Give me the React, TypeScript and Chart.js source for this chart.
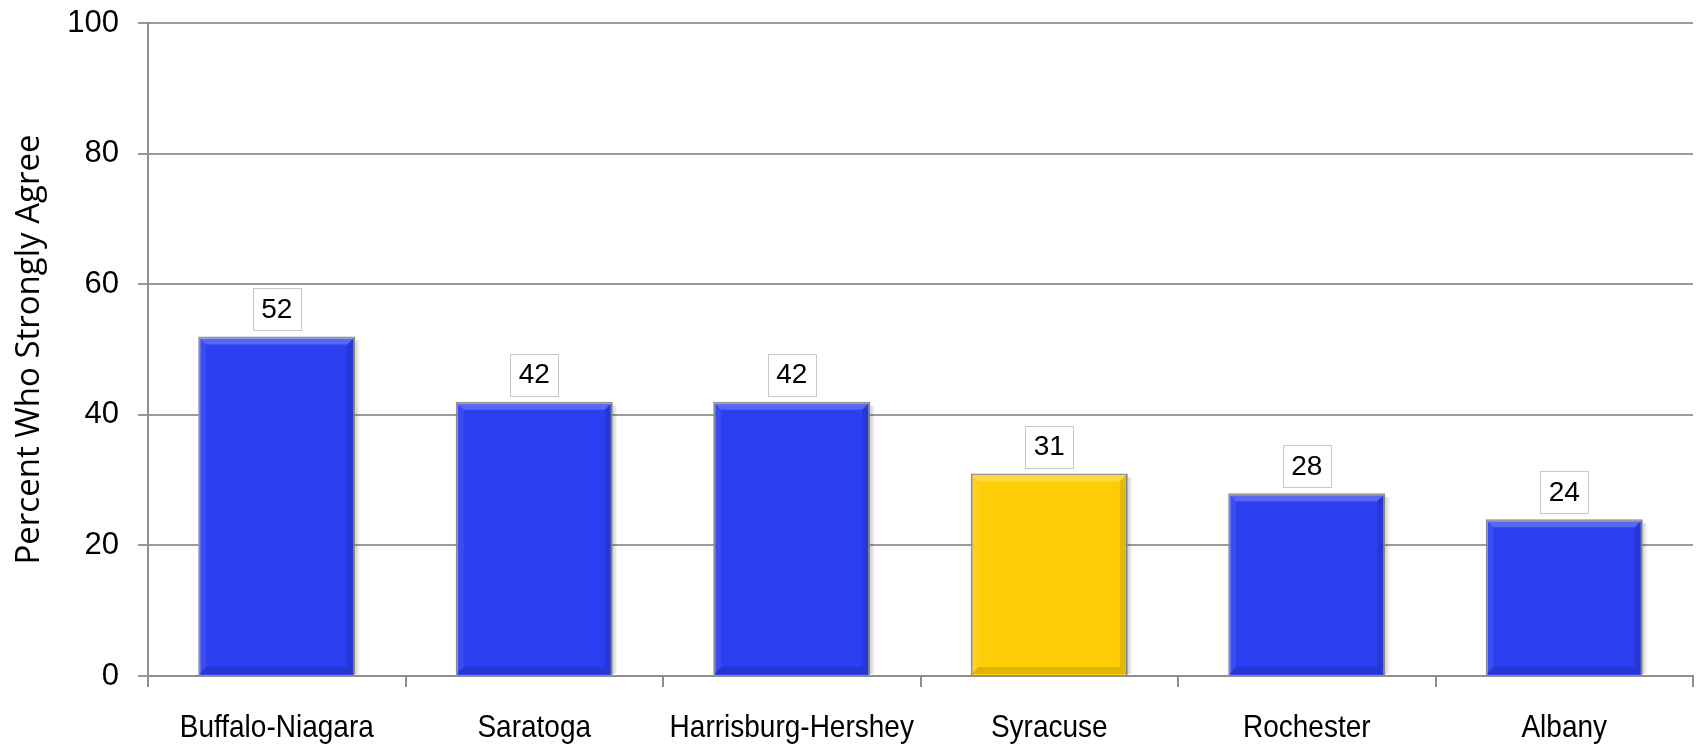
import React, { useEffect, useRef } from "react";
import { Chart, registerables } from "chart.js";

Chart.register(...registerables);

const categories: string[] = ["Buffalo-Niagara", "Saratoga", "Harrisburg-Hershey", "Syracuse", "Rochester", "Albany"];
const values: number[] = [52, 42, 42, 31, 28, 24];
const barColors: string[] = ["#2b3ef0", "#2b3ef0", "#2b3ef0", "#ffcc08", "#2b3ef0", "#2b3ef0"];
const yTicks: number[] = [0, 20, 40, 60, 80, 100];
const yTitle = "Percent Who Strongly Agree";

const FONT = "'Liberation Sans', Arial, sans-serif";

const barDecor = {
  id: "barDecor",
  afterDatasetsDraw(chart: any) {
    const ctx = chart.ctx as CanvasRenderingContext2D;
    const meta = chart.getDatasetMeta(0);
    meta.data.forEach((el: any, i: number) => {
      const w = el.width;
      const left = el.x - w / 2 + 1;
      const right = el.x + w / 2 - 1;
      const top = el.y + 1;
      const bottom = el.base - 1;
      const b = 7;
      ctx.save();
      ctx.fillStyle = "rgba(255,255,255,0.22)";
      ctx.beginPath();
      ctx.moveTo(left, top);
      ctx.lineTo(right, top);
      ctx.lineTo(right - b, top + b);
      ctx.lineTo(left + b, top + b);
      ctx.closePath();
      ctx.fill();
      ctx.fillStyle = "rgba(255,255,255,0.08)";
      ctx.beginPath();
      ctx.moveTo(left, top);
      ctx.lineTo(left + b, top + b);
      ctx.lineTo(left + b, bottom - b);
      ctx.lineTo(left, bottom);
      ctx.closePath();
      ctx.fill();
      ctx.fillStyle = "rgba(0,0,0,0.10)";
      ctx.beginPath();
      ctx.moveTo(right, top);
      ctx.lineTo(right - b, top + b);
      ctx.lineTo(right - b, bottom - b);
      ctx.lineTo(right, bottom);
      ctx.closePath();
      ctx.fill();
      ctx.fillStyle = "rgba(0,0,0,0.12)";
      ctx.beginPath();
      ctx.moveTo(left, bottom);
      ctx.lineTo(left + b, bottom - b);
      ctx.lineTo(right - b, bottom - b);
      ctx.lineTo(right, bottom);
      ctx.closePath();
      ctx.fill();
      const g = ctx.createLinearGradient(right + 1, 0, right + 6, 0);
      g.addColorStop(0, "rgba(0,0,0,0.18)");
      g.addColorStop(1, "rgba(0,0,0,0)");
      ctx.fillStyle = g;
      ctx.fillRect(right + 1, top + 3, 5, bottom - top - 3);

      const text = String(values[i]);
      ctx.font = `28px ${FONT}`;
      const tw = ctx.measureText(text).width;
      const bw = tw + 17;
      const bh = 42;
      const bx = el.x - bw / 2;
      const by = el.y - 6 - bh;
      ctx.fillStyle = "#ffffff";
      ctx.fillRect(bx, by, bw, bh);
      ctx.strokeStyle = "#c8c8c8";
      ctx.lineWidth = 1;
      ctx.strokeRect(Math.round(bx) + 0.5, Math.round(by) + 0.5, Math.round(bw), bh);
      ctx.fillStyle = "#000000";
      ctx.textAlign = "center";
      ctx.textBaseline = "middle";
      ctx.fillText(text, el.x, by + bh / 2 + 1);
      ctx.restore();
    });
  },
  afterDraw(chart: any) {
    // category labels, drawn slightly tall as in the source image
    const ctx = chart.ctx as CanvasRenderingContext2D;
    const xs = chart.scales.x;
    ctx.save();
    ctx.font = `28px ${FONT}`;
    ctx.fillStyle = "#000";
    ctx.textAlign = "center";
    ctx.textBaseline = "alphabetic";
    categories.forEach((c, i) => {
      const x = xs.getPixelForValue(i);
      const baseY = xs.bottom - 7;
      ctx.save();
      ctx.translate(x, baseY);
      ctx.scale(1, 1.13);
      ctx.fillText(c, 0, 0);
      ctx.restore();
    });
    ctx.restore();
  },
};

export default function App() {
  const ref = useRef<HTMLCanvasElement | null>(null);
  useEffect(() => {
    document.body.style.margin = "0";
    if (!ref.current) return;
    const chart = new Chart(ref.current, {
      type: "bar",
      data: {
        labels: categories,
        datasets: [
          {
            data: values,
            backgroundColor: barColors,
            borderColor: "#8a8a8a",
            borderWidth: 2,
            barPercentage: 0.61,
            categoryPercentage: 1.0,
          },
        ],
      },
      options: {
        responsive: false,
        animation: false,
        layout: { padding: { top: 23, right: 5, bottom: 0, left: 0 } },
        plugins: {
          legend: { display: false },
          tooltip: { enabled: false },
        },
        scales: {
          x: {
            afterFit: (s: any) => {
              s.height = 68;
            },
            grid: {
              display: true,
              drawOnChartArea: false,
              drawTicks: true,
              tickLength: 11,
              color: "#8f8f8f",
              lineWidth: 2,
              offset: true,
            },
            border: { display: true, color: "#8f8f8f", width: 2 },
            ticks: {
              display: false,
              font: { family: FONT, size: 28 },
            },
          },
          y: {
            min: 0,
            max: 100,
            afterFit: (s: any) => {
              s.width = 148;
              s.paddingTop = 0;
              s.paddingBottom = 0;
            },
            afterBuildTicks: (axis: any) => {
              axis.ticks = yTicks.map((v) => ({ value: v }));
            },
            grid: {
              color: "#9a9a9a",
              lineWidth: 2,
              tickLength: 10,
              drawTicks: true,
            },
            border: { display: true, color: "#8f8f8f", width: 2 },
            ticks: {
              color: "#000",
              padding: 19,
              font: { family: FONT, size: 31 },
            },
            title: {
              display: true,
              text: yTitle,
              color: "#000",
              padding: { top: 10, bottom: 5 },
              font: { family: "'Open Sans', sans-serif", size: 33 },
            },
          },
        },
      },
      plugins: [barDecor],
    });
    return () => chart.destroy();
  }, []);
  return (
    <div style={{ position: "absolute", left: 0, top: 0, width: 1698, height: 744 }}>
      <canvas ref={ref} width={1698} height={744} style={{ width: 1698, height: 744 }} />
    </div>
  );
}
